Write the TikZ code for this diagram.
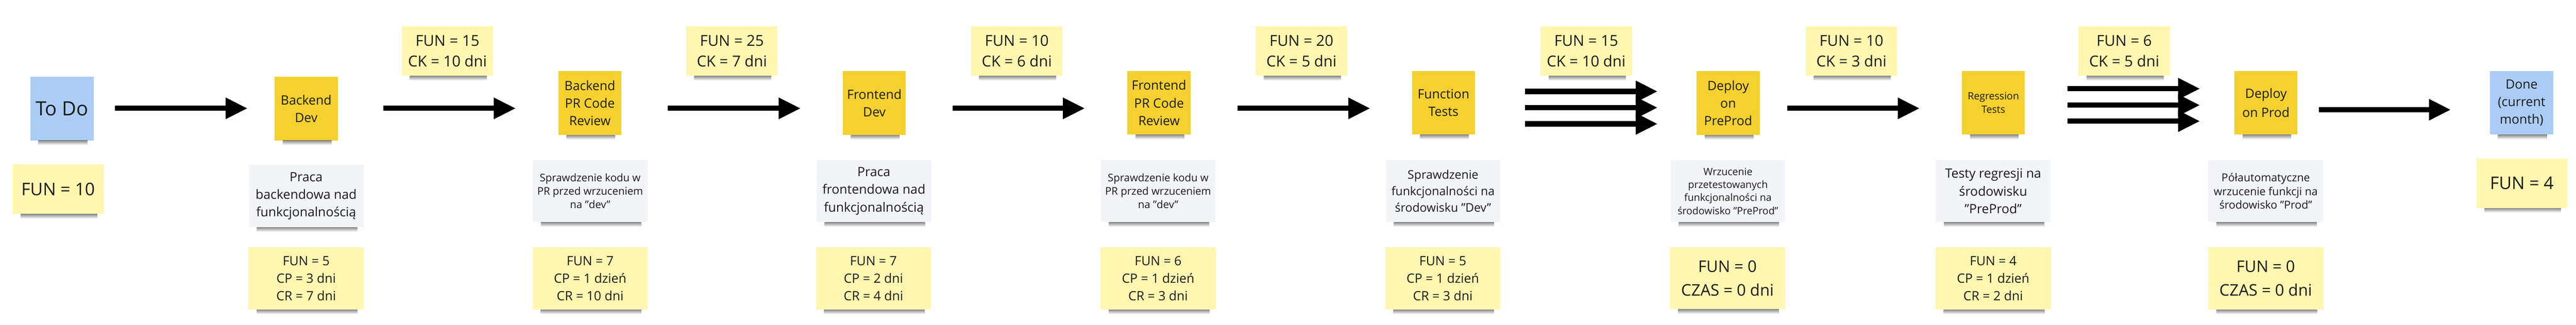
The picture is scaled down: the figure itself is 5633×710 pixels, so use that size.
\documentclass[tikz,border=0pt]{standalone}
\usepackage{fontspec}
\setmainfont{Open Sans}
\usetikzlibrary{arrows.meta}
\definecolor{stYellow}{HTML}{FFF7B0}
\definecolor{stOrange}{HTML}{F4D12F}
\definecolor{stBlue}{HTML}{ABCDF5}
\definecolor{stGrey}{HTML}{F3F4F7}
\definecolor{txt}{HTML}{1A1A1A}
\newcommand{\fsz}[2]{\fontsize{#1}{#2}\selectfont}
\tikzset{
  sticky/.style={inner sep=0pt, align=center, anchor=center, text=txt},
  procbox/.style={sticky, fill=stOrange, minimum width=138pt, minimum height=139pt, font=\fsz{28}{38.5}},
  bluebox/.style={sticky, fill=stBlue, minimum width=139pt, minimum height=139pt},
  descbox/.style={sticky, fill=stGrey, minimum width=251pt, minimum height=136pt},
  statbox/.style={sticky, fill=stYellow, minimum width=252pt, minimum height=136pt, font=\fsz{28}{38.5}},
  topbox/.style={sticky, fill=stYellow, minimum width=200pt, minimum height=108pt, font=\fsz{33}{45}},
  arr/.style={draw=black, line width=11.5pt, -{Triangle[length=48pt,width=44pt]}},
  shad/.style={top color=black!60, bottom color=white, opacity=0.75}
}
\begin{document}
\begin{tikzpicture}[x=1pt,y=-1pt]
\useasboundingbox[fill=white] (0,0) rectangle (5633,710);
% arrow rows
\coordinate (r1) at (0,237);
\coordinate (r2) at (0,200);
\coordinate (r3) at (0,235.5);
\coordinate (r4) at (0,271);
\coordinate (r5) at (0,194);
\coordinate (r6) at (0,230);
\coordinate (r7) at (0,265);
\coordinate (r8) at (0,240);
% column 0
\node[bluebox, font=\fsz{43}{50}] (todo) at (135.5,237.5) {To Do};
\node[statbox, minimum width=200pt, minimum height=109pt, font=\fsz{38}{46}] (fun10) at (127,413.5) {FUN = 10};
% column 1
\node[procbox] (bdev) at (669.5,237.5) {Backend\\Dev};
\node[descbox, font=\fsz{28}{38.5}] (bdesc) at (669.5,429) {Praca\\backendowa nad\\funkcjonalnością};
\node[statbox] (bstat) at (669.5,609) {FUN = 5\\CP = 3 dni\\CR = 7 dni};
\node[topbox] (top1) at (978.5,112) {FUN = 15\\CK = 10 dni};
% column 2
\node[procbox] (bpr) at (1290,225.5) {Backend\\PR Code\\Review};
\node[descbox, font=\fsz{23}{29.5}] (bprdesc) at (1290.5,418) {Sprawdzenie kodu w\\PR przed wrzuceniem\\na "dev"};
\node[statbox] (bprstat) at (1290.5,609) {FUN = 7\\CP = 1 dzień\\CR = 10 dni};
\node[topbox] (top2) at (1600.5,112) {FUN = 25\\CK = 7 dni};
% column 3
\node[procbox] (fdev) at (1912,225.5) {Frontend\\Dev};
\node[descbox, font=\fsz{28}{38.5}] (fdesc) at (1911,418) {Praca\\frontendowa nad\\funkcjonalnością};
\node[statbox] (fstat) at (1910,609) {FUN = 7\\CP = 2 dni\\CR = 4 dni};
\node[topbox] (top3) at (2223.5,112) {FUN = 10\\CK = 6 dni};
% column 4
\node[procbox] (fpr) at (2534.5,225) {Frontend\\PR Code\\Review};
\node[descbox, font=\fsz{23}{29.5}] (fprdesc) at (2532.5,418) {Sprawdzenie kodu w\\PR przed wrzuceniem\\na "dev"};
\node[statbox] (fprstat) at (2532.5,609) {FUN = 6\\CP = 1 dzień\\CR = 3 dni};
\node[topbox] (top4) at (2846,112) {FUN = 20\\CK = 5 dni};
% column 5
\node[procbox] (ftest) at (3156.5,225) {Function\\Tests};
\node[descbox, font=\fsz{26}{36}] (ftdesc) at (3155.5,418) {Sprawdzenie\\funkcjonalności na\\środowisku "Dev"};
\node[statbox] (ftstat) at (3155,609) {FUN = 5\\CP = 1 dzień\\CR = 3 dni};
\node[topbox] (top5) at (3468.5,112) {FUN = 15\\CK = 10 dni};
% column 6
\node[procbox] (ppd) at (3779,225.5) {Deploy\\on\\PreProd};
\node[descbox, font=\fsz{22}{28.5}] (ppddesc) at (3778.5,418) {Wrzucenie\\przetestowanych\\funkcjonalności na\\środowisko "PreProd"};
\node[statbox, font=\fsz{35}{52}] (ppdstat) at (3777.5,608.5) {FUN = 0\\CZAS = 0 dni};
\node[topbox] (top6) at (4048.5,112) {FUN = 10\\CK = 3 dni};
% column 7
\node[procbox, font=\fsz{22}{29}] (reg) at (4359,225) {Regression\\Tests};
\node[descbox, font=\fsz{28}{38.5}] (regdesc) at (4358.5,418) {Testy regresji na\\środowisku\\"PreProd"};
\node[statbox] (regstat) at (4358.5,609) {FUN = 4\\CP = 1 dzień\\CR = 2 dni};
\node[topbox] (top7) at (4645,112) {FUN = 6\\CK = 5 dni};
% column 8
\node[procbox, font=\fsz{28}{41}] (prod) at (4955,225) {Deploy\\on Prod};
\node[descbox, font=\fsz{24}{29.5}] (proddesc) at (4954.5,418) {Półautomatyczne\\wrzucenie funkcji na\\środowisko "Prod"};
\node[statbox, font=\fsz{35}{52}] (prodstat) at (4954.5,609) {FUN = 0\\CZAS = 0 dni};
% column 9
\node[bluebox, font=\fsz{28}{38.5}] (done) at (5514,225) {Done\\(current\\month)};
\node[statbox, minimum width=199pt, minimum height=108pt, font=\fsz{38}{46}] (fun4) at (5514.5,401) {FUN = 4};
% shadows
\foreach \n in {todo,fun10,bdev,bdesc,bstat,top1,bpr,bprdesc,bprstat,top2,fdev,fdesc,fstat,top3,fpr,fprdesc,fprstat,top4,ftest,ftdesc,ftstat,top5,ppd,ppddesc,ppdstat,top6,reg,regdesc,regstat,top7,prod,proddesc,prodstat,done,fun4}{
  \shade[shad] ([xshift=18pt]\n.south west) rectangle ([xshift=-14pt,yshift=-10pt]\n.south east);
}
% connectors
\draw[arr, shorten <=46pt, shorten >=59pt] (todo.east |- r1) -- (bdev.west |- r1);
\draw[arr, shorten <=99pt, shorten >=93pt] (bdev.east |- r1) -- (bpr.west |- r1);
\draw[arr, shorten <=101pt, shorten >=92pt] (bpr.east |- r1) -- (fdev.west |- r1);
\draw[arr, shorten <=102pt, shorten >=93pt] (fdev.east |- r1) -- (fpr.west |- r1);
\draw[arr, shorten <=102pt, shorten >=91pt] (fpr.east |- r1) -- (ftest.west |- r1);
\draw[arr, shorten <=109pt, shorten >=85pt] (ftest.east |- r2) -- (ppd.west |- r2);
\draw[arr, shorten <=109pt, shorten >=85pt] (ftest.east |- r3) -- (ppd.west |- r3);
\draw[arr, shorten <=109pt, shorten >=85pt] (ftest.east |- r4) -- (ppd.west |- r4);
\draw[arr, shorten <=60pt, shorten >=92pt] (ppd.east |- r1) -- (reg.west |- r1);
\draw[arr, shorten <=93pt, shorten >=75pt] (reg.east |- r5) -- (prod.west |- r5);
\draw[arr, shorten <=93pt, shorten >=75pt] (reg.east |- r6) -- (prod.west |- r6);
\draw[arr, shorten <=93pt, shorten >=75pt] (reg.east |- r7) -- (prod.west |- r7);
\draw[arr, shorten <=47pt, shorten >=85pt] (prod.east |- r8) -- (done.west |- r8);
\end{tikzpicture}
\end{document}
